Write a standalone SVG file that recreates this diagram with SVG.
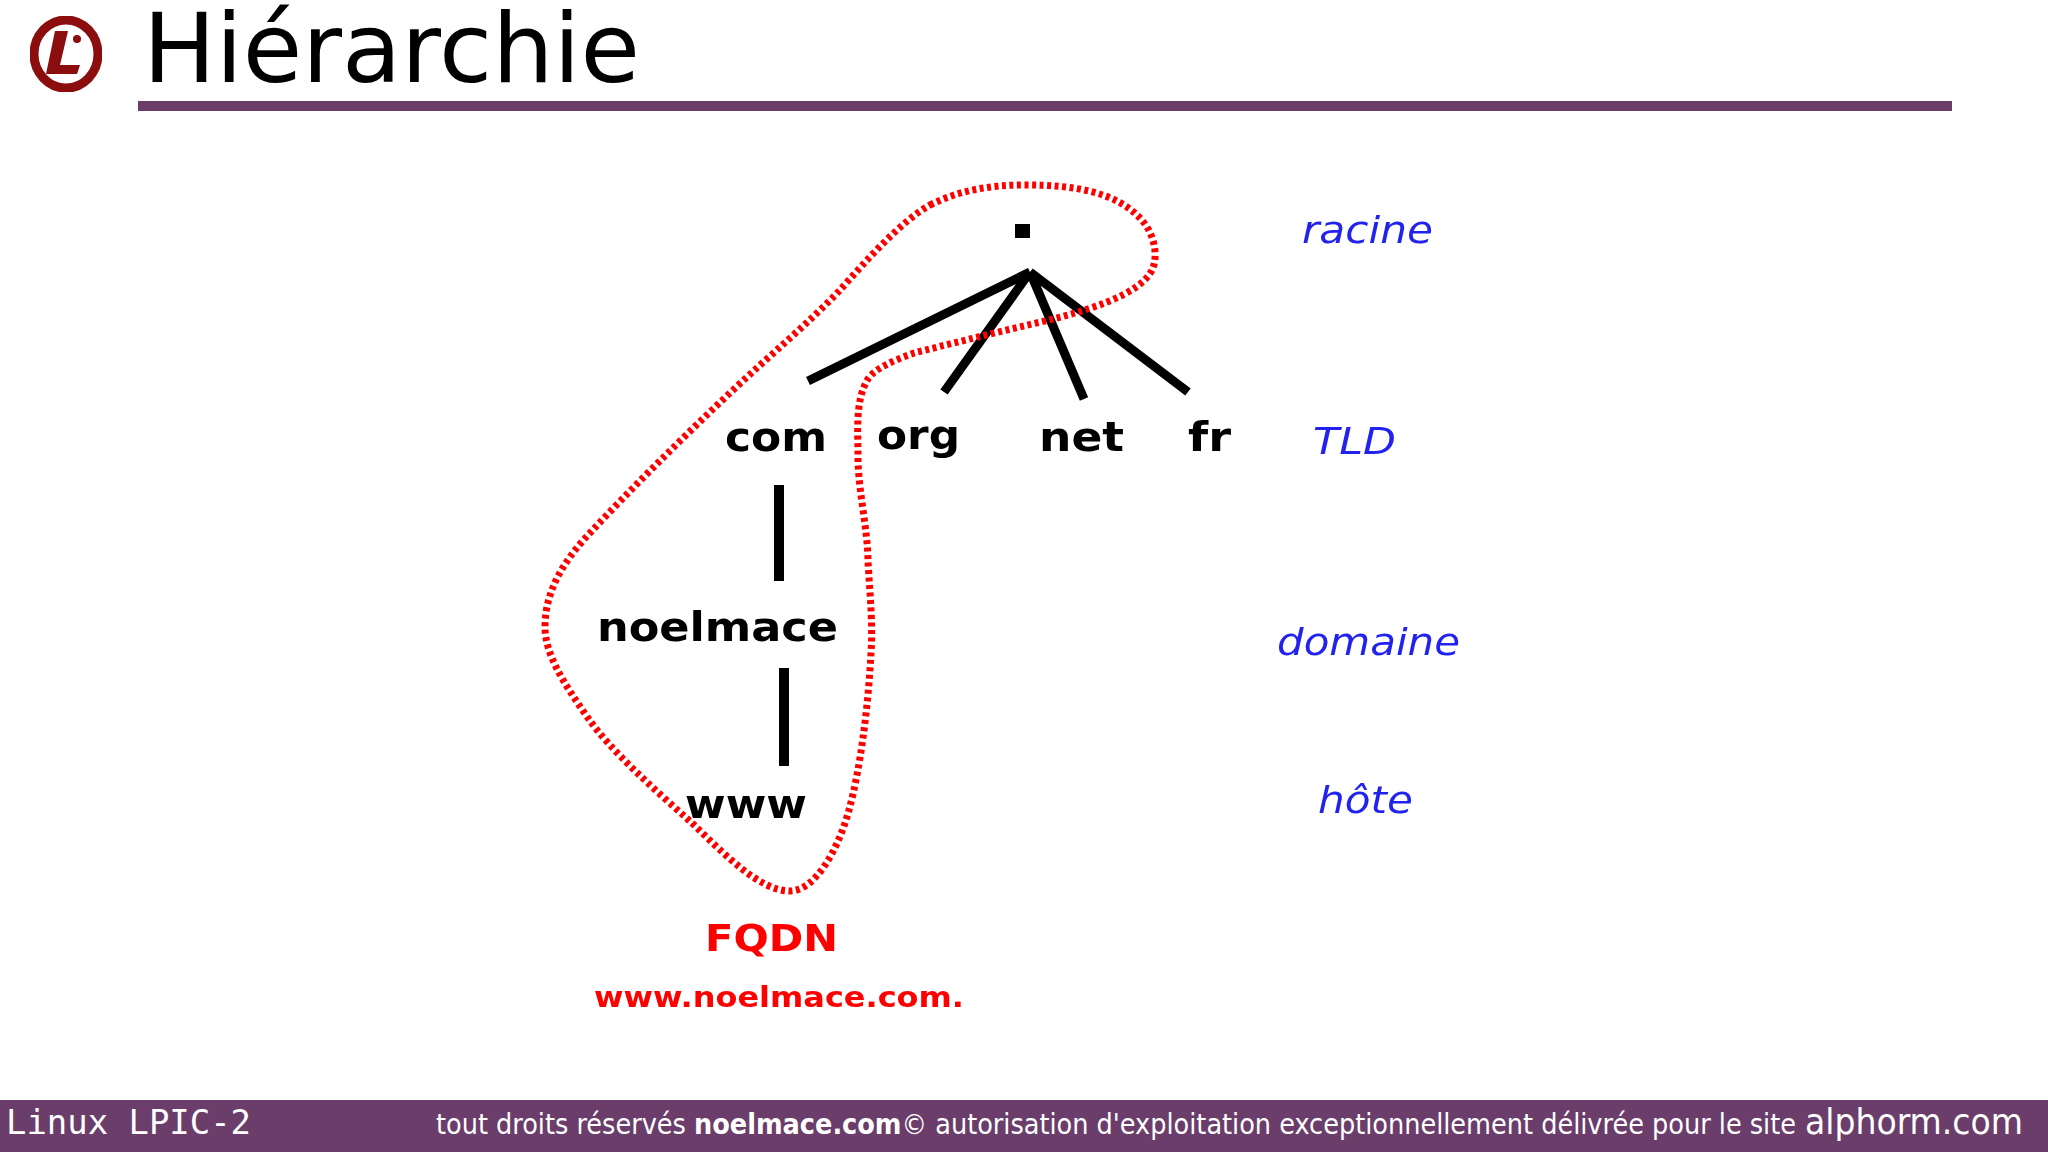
<svg xmlns="http://www.w3.org/2000/svg" width="2048" height="1152" viewBox="0 0 2048 1152">
<defs><filter id="soft" x="-5%" y="-5%" width="110%" height="110%"><feGaussianBlur stdDeviation="0.6"/></filter></defs>
<style>
.n{font-family:"DejaVu Sans",sans-serif;font-weight:700;fill:#000;font-size:40px}
.b{font-family:"DejaVu Sans",sans-serif;font-style:italic;fill:#2222ee;font-size:38px}
.r{font-family:"DejaVu Sans",sans-serif;font-weight:700;fill:#f00}
.f{font-family:"DejaVu Sans",sans-serif;fill:#fff;font-stretch:condensed}
.l{stroke:#000;fill:none;stroke-width:9}
.s{filter:url(#soft)}
</style>
<rect width="2048" height="1152" fill="#fff"/>
<g id="logo" class="s">
<ellipse cx="66" cy="54" rx="32" ry="34" fill="#fff" stroke="#8c0a0a" stroke-width="9"/>
<path d="M55 31H68L60 65H80L77 74H46Z" fill="#8c0a0a"/>
<circle cx="77" cy="39" r="4" fill="#8c0a0a"/>
</g>
<text x="143" y="82" font-family="DejaVu Sans,sans-serif" font-size="96" fill="#000" textLength="497" lengthAdjust="spacingAndGlyphs">Hiérarchie</text>
<rect x="138" y="101" width="1814" height="10" fill="#6a3d6a"/>
<g id="connectors" class="s">
<path class="l" d="M1030 272L808 381M1030 272L944 392M1030 272L1084 399M1030 272L1188 392"/>
<path class="l" d="M779 485V581M784 668V766" style="stroke-width:10"/>
<path id="fqdn-outline" fill="none" stroke="#f00" stroke-width="7" stroke-dasharray="4 3.5" d="M930 205C960 190 990 185 1025 185C1075 185 1115 192 1140 218C1156 235 1158 258 1152 270C1140 295 1085 312 1032 324C990 334 945 345 914 353C895 360 875 368 868 379C855 400 858 430 858 457C858 490 868 530 868 562C870 595 873 625 871 653C868 710 860 770 849 810C838 850 815 891 790 891C760 891 725 855 692 823C655 790 610 750 588 718C565 685 545 655 545 627C545 590 565 560 588 535C630 490 680 440 731 392C770 355 810 322 840 290C865 262 900 222 930 205Z"/>
</g>
<g id="root" class="s"><rect x="1015" y="224" width="15" height="14" fill="#000"/></g>
<g id="com" class="s"><text class="n" x="725" y="451" textLength="102" lengthAdjust="spacingAndGlyphs">com</text></g>
<g id="org" class="s"><text class="n" x="877" y="449" textLength="83" lengthAdjust="spacingAndGlyphs">org</text></g>
<g id="net" class="s"><text class="n" x="1039" y="451" textLength="85" lengthAdjust="spacingAndGlyphs">net</text></g>
<g id="fr" class="s"><text class="n" x="1188" y="451" textLength="43" lengthAdjust="spacingAndGlyphs">fr</text></g>
<g id="noelmace" class="s"><text class="n" x="597" y="641" textLength="241" lengthAdjust="spacingAndGlyphs">noelmace</text></g>
<g id="www" class="s"><text class="n" x="685" y="818" textLength="122" lengthAdjust="spacingAndGlyphs">www</text></g>
<g id="fqdn" class="s">
<text class="r" x="705" y="951" font-size="38" textLength="133" lengthAdjust="spacingAndGlyphs">FQDN</text>
<text class="r" x="594" y="1007" font-size="29" textLength="370" lengthAdjust="spacingAndGlyphs">www.noelmace.com.</text>
</g>
<g id="labels" class="s">
<text class="b" x="1302" y="243" textLength="131" lengthAdjust="spacingAndGlyphs">racine</text>
<text class="b" x="1313" y="454" textLength="83" lengthAdjust="spacingAndGlyphs">TLD</text>
<text class="b" x="1277" y="655" textLength="183" lengthAdjust="spacingAndGlyphs">domaine</text>
<text class="b" x="1318" y="813" textLength="95" lengthAdjust="spacingAndGlyphs">hôte</text>
</g>
<g id="footer">
<rect y="1100" width="2048" height="52" fill="#6a3d6a"/>
<text x="6" y="1134" font-family="DejaVu Sans Mono,monospace" font-size="33" fill="#fff" textLength="245" lengthAdjust="spacingAndGlyphs">Linux LPIC-2</text>
<text class="f" x="436" y="1134" font-size="28" textLength="1360" lengthAdjust="spacingAndGlyphs">tout droits réservés <tspan font-weight="700">noelmace.com</tspan>© autorisation d'exploitation exceptionnellement délivrée pour le site</text>
<text class="f" x="1805" y="1134" font-size="36" textLength="218" lengthAdjust="spacingAndGlyphs">alphorm.com</text>
</g>
</svg>
